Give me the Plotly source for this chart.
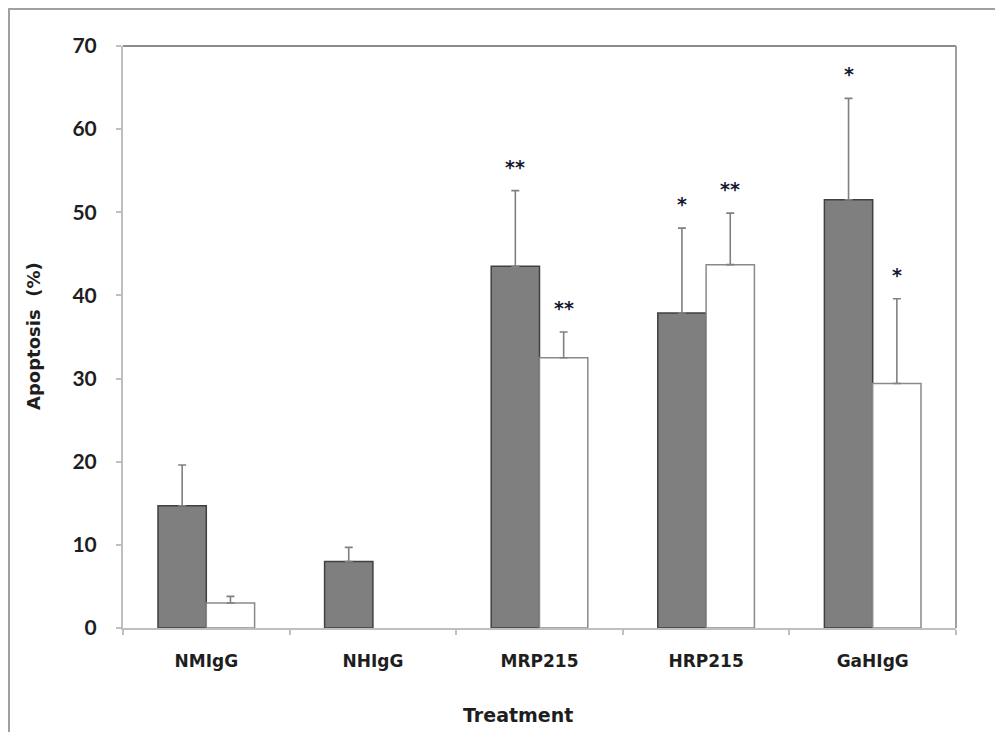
import plotly.graph_objects as go

categories = ["NMIgG", "NHIgG", "MRP215", "HRP215", "GaHIgG"]
gray_values = [14.7, 8.0, 43.5, 37.9, 51.5]
gray_errors = [4.9, 1.7, 9.1, 10.2, 12.2]
white_values = [3.0, None, 32.5, 43.7, 29.4]
white_errors = [0.8, None, 3.1, 6.2, 10.2]
gray_stars = ["", "", "**", "*", "*"]
white_stars = ["", "", "**", "**", "*"]
y_ticks = [0, 10, 20, 30, 40, 50, 60, 70]

# page body has an 8px margin, so the figure is laid out 8px smaller
OFF = 8
W, H = 1003 - OFF, 732 - OFF
L, T = 123 - OFF, 46 - OFF
PR, PB = 956 - OFF, 628 - OFF
PW, PH = PR - L, PB - T

TXT = "#1e1e1e"
SANS = "DejaVu Sans"
bargap = 0.42
half = (1 - bargap) / 4

fig = go.Figure()
fig.add_trace(go.Bar(
    x=categories, y=gray_values, name="gray",
    marker=dict(color="#7f7f7f", line=dict(color="#404040", width=1.5)),
    error_y=dict(type="data", array=gray_errors, arrayminus=[0]*5, symmetric=False,
                 color="#808080", thickness=1.6, width=4),
))
fig.add_trace(go.Bar(
    x=categories, y=white_values, name="white",
    marker=dict(color="#ffffff", line=dict(color="#8a8a8a", width=1.5)),
    error_y=dict(type="data", array=[e if e is not None else 0 for e in white_errors],
                 arrayminus=[0]*5, symmetric=False,
                 color="#808080", thickness=1.6, width=4),
))

for i in range(len(categories)):
    for stars, vals, errs, off in ((gray_stars, gray_values, gray_errors, -half),
                                   (white_stars, white_values, white_errors, half)):
        if stars[i]:
            fig.add_annotation(x=i + off, y=vals[i] + errs[i], xref="x", yref="y",
                               text=stars[i], showarrow=False, yanchor="bottom", yshift=11,
                               font=dict(family=SANS, size=19, color="#151a30", weight="bold"))

fig.update_layout(
    width=W, height=H,
    margin=dict(l=L, r=W - PR, t=T, b=H - PB, pad=0),
    paper_bgcolor="white", plot_bgcolor="white",
    barmode="group", bargap=bargap, bargroupgap=0,
    showlegend=False,
    font=dict(family=SANS, color=TXT),
)
fig.update_xaxes(
    showline=True, linecolor="#bfbfbf", linewidth=2,
    showgrid=False, ticks="outside", tickson="boundaries", ticklen=5,
    tickcolor="#bfbfbf", tickwidth=1.5,
    ticklabelstandoff=17,
    tickfont=dict(family=SANS, size=17, color=TXT, weight="bold"),
)
fig.update_yaxes(
    range=[0, 70], tickvals=y_ticks,
    showline=True, linecolor="#bfbfbf", linewidth=2,
    showgrid=False, ticks="outside", ticklen=5, tickcolor="#bfbfbf", tickwidth=1.5,
    ticklabelstandoff=15,
    tickfont=dict(family="Lato", size=21, color=TXT, weight="bold"),
    zeroline=False,
)
# plot box top/right
fig.add_shape(type="line", xref="paper", yref="paper", x0=0, x1=1, y0=1, y1=1,
              line=dict(color="#8c8c8c", width=2))
fig.add_shape(type="line", xref="paper", yref="paper", x0=1, x1=1, y0=0, y1=1,
              line=dict(color="#a0a0a0", width=2))
# outer frame
fig.add_shape(type="rect", xref="paper", yref="paper",
              x0=(9 - OFF - L) / PW, x1=1.2, y0=-0.4, y1=1 + (T - (9 - OFF)) / PH,
              line=dict(color="#a0a0a0", width=2))

fig.add_annotation(xref="paper", yref="paper", x=(518 - OFF - L) / PW,
                   y=-(715 - 628) / PH,
                   text="Treatment", showarrow=False, yanchor="middle",
                   font=dict(family=SANS, size=19, color=TXT, weight="bold"))
fig.add_annotation(xref="paper", yref="paper", x=(33 - OFF - L) / PW, y=(628 - 336) / PH,
                   text="Apoptosis\u00a0\u00a0(%)", showarrow=False, textangle=-90,
                   xanchor="center", yanchor="middle",
                   font=dict(family=SANS, size=18, color=TXT, weight="bold"))

fig.write_html("out.html")
